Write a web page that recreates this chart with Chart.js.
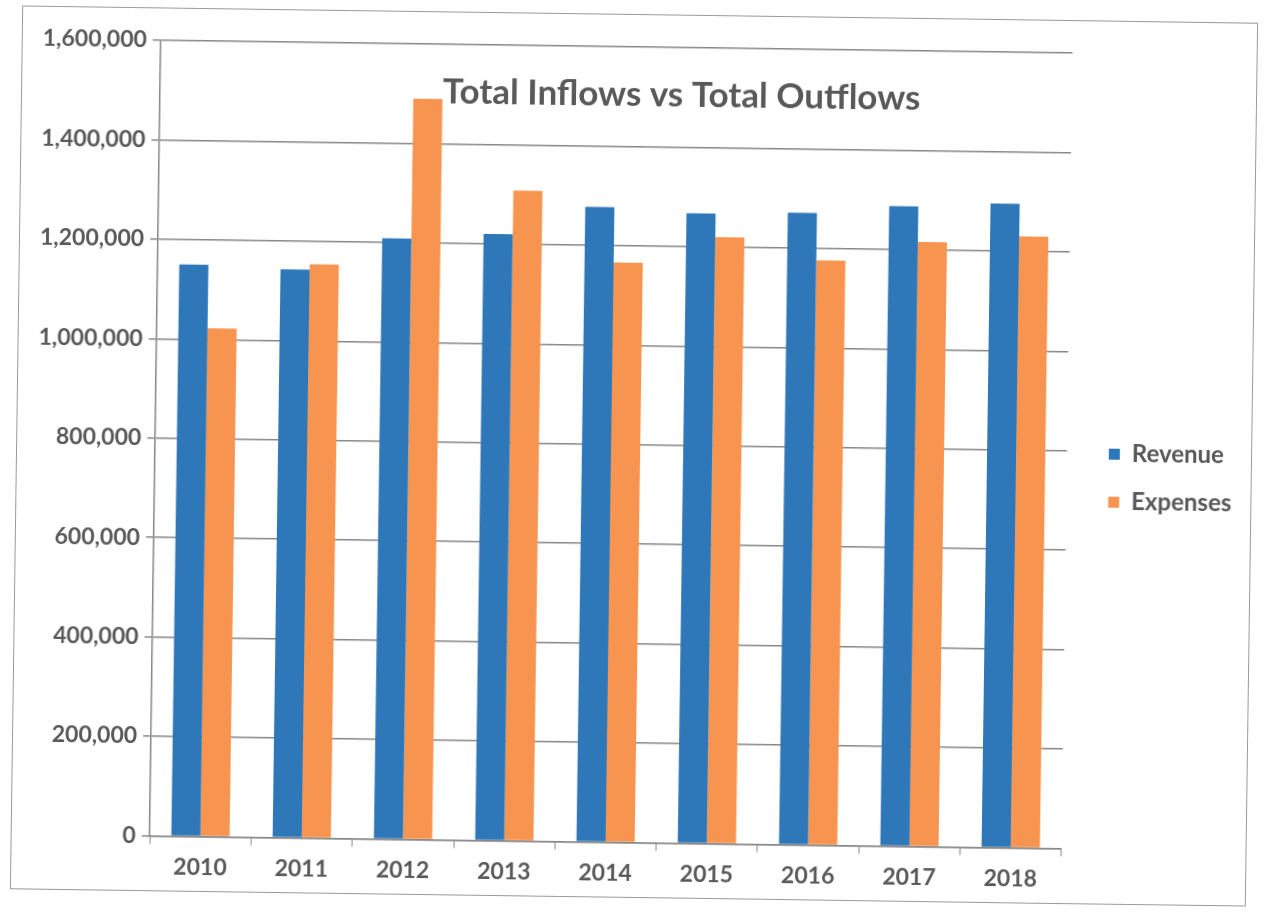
<!DOCTYPE html>
<html>
<head>
<meta charset="utf-8">
<title>Total Inflows vs Total Outflows</title>
<script src="https://cdn.jsdelivr.net/npm/chart.js@4.4.1/dist/chart.umd.min.js"></script>
<style>
  html, body { margin: 0; padding: 0; background: #fff; }
  #page { position: relative; width: 1266px; height: 913px; overflow: hidden; }
  #frame {
    position: absolute; left: 16px; top: 14px;
    width: 1236px; height: 884px;
    border: 1.5px solid #9a9a9a;
    box-sizing: border-box;
    transform: rotate(0.8deg);
  }
  #frame canvas { position: absolute; left: 0; top: 0; }
</style>
</head>
<body>
<div id="page">
  <div id="frame">
    <canvas id="flows" width="1233" height="881"></canvas>
  </div>
</div>
<script>
const years = ['2010', '2011', '2012', '2013', '2014', '2015', '2016', '2017', '2018'];
const revenue = [1150000, 1143000, 1208000, 1220000, 1277000, 1267000, 1271000, 1287000, 1295000];
const expenses = [1022000, 1154000, 1490000, 1308000, 1166000, 1220000, 1176000, 1216000, 1230000];
const yMax = 1600000;
const yStep = 200000;
const titleText = 'Total Inflows vs Total Outflows';

const textGray = '#595959';
const gridGray = '#878787';
const labelFont = { family: 'Lato', size: 23, weight: 'bold' };

// title sits inside the plot, over the bars
const inlineTitle = {
    id: 'inlineTitle',
    afterDatasetsDraw(chart) {
        const { ctx, chartArea, scales } = chart;
        ctx.save();
        ctx.font = 'bold 35px Lato';
        ctx.fillStyle = textGray;
        ctx.textAlign = 'center';
        ctx.textBaseline = 'middle';
        ctx.fillText(titleText, chartArea.left + chartArea.width * 0.572, scales.y.getPixelForValue(1505000));
        ctx.restore();
    }
};

function renderChart(ctxId) {
    const ctx = document.getElementById(ctxId).getContext('2d');

    new Chart(ctx, {
        type: 'bar',
        data: {
            labels: years,
            datasets: [{
                label: 'Revenue',
                data: revenue,
                backgroundColor: '#2e77b8',
                barPercentage: 1,
                categoryPercentage: 0.575
            }, {
                label: 'Expenses',
                data: expenses,
                backgroundColor: '#f7944f',
                barPercentage: 1,
                categoryPercentage: 0.575
            }]
        },
        options: {
            responsive: false,
            animation: false,
            layout: {
                padding: { top: 32, right: 8, bottom: 0, left: 14 }
            },
            plugins: {
                legend: {
                    position: 'right',
                    labels: {
                        boxWidth: 11,
                        boxHeight: 11,
                        padding: 24,
                        color: textGray,
                        font: { family: 'Lato', size: 24, weight: 'bold' }
                    }
                },
                title: { display: false },
                tooltip: { enabled: false }
            },
            scales: {
                x: {
                    grid: {
                        offset: true,
                        drawOnChartArea: false,
                        tickLength: 8,
                        color: gridGray
                    },
                    border: { color: gridGray, width: 1.5 },
                    ticks: {
                        color: textGray,
                        padding: 9,
                        font: labelFont
                    }
                },
                y: {
                    min: 0,
                    max: yMax,
                    grid: {
                        color: gridGray,
                        lineWidth: 1.5,
                        tickLength: 8
                    },
                    border: { color: gridGray, width: 1.5 },
                    ticks: {
                        stepSize: yStep,
                        color: textGray,
                        padding: 6,
                        font: labelFont,
                        callback: v => v.toLocaleString('en-US')
                    }
                },
                gap: {
                    position: 'right',
                    display: true,
                    grid: { display: false },
                    border: { display: false },
                    ticks: { display: false },
                    afterFit(axis) { axis.width = 18; }
                }
            }
        },
        plugins: [inlineTitle]
    });
}

renderChart('flows');
</script>
</body>
</html>
